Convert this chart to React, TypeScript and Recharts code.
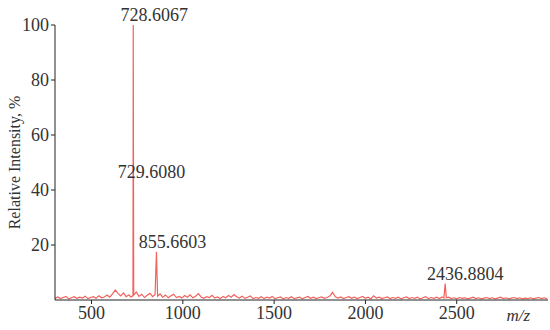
import { ComposedChart, Line, XAxis, YAxis, ReferenceDot } from 'recharts';

// baseline noise, [m/z, relative intensity %]
const noise: [number, number][] = [
  [300, 0.6], [315, 1.1], [330, 0.5], [345, 0.9], [360, 1.3], [375, 0.4], [390, 0.8], [405, 1.2],
  [420, 0.6], [435, 1.0], [450, 0.7], [465, 1.4], [480, 0.5], [495, 0.9], [510, 1.2], [525, 0.6],
  [540, 1.5], [555, 0.8], [570, 1.1], [585, 1.8], [600, 1.0], [615, 2.2], [630, 3.6], [645, 2.4],
  [660, 1.5], [675, 2.6], [690, 1.2], [705, 1.9], [715, 1.1], [727, 1.5], [731, 1.8], [745, 2.9],
  [760, 1.3], [775, 2.1], [790, 0.9], [805, 1.7], [820, 2.4], [835, 1.2], [848, 2.0], [862, 1.4],
  [875, 2.2], [890, 1.0], [905, 1.8], [920, 0.8], [935, 1.5], [950, 2.1], [965, 0.9], [980, 1.3],
  [995, 0.7], [1010, 1.6], [1025, 1.0], [1040, 1.9], [1055, 0.8], [1070, 1.4], [1085, 2.3], [1100, 1.1],
  [1115, 0.6], [1130, 1.2], [1145, 0.9], [1160, 1.7], [1175, 0.7], [1190, 1.1], [1205, 0.5], [1220, 1.3],
  [1235, 0.8], [1250, 1.6], [1265, 1.0], [1280, 2.0], [1295, 1.2], [1310, 0.7], [1325, 1.4], [1340, 0.6],
  [1355, 1.0], [1370, 1.5], [1385, 0.5], [1400, 0.9], [1415, 0.6], [1430, 1.2], [1445, 0.5], [1460, 1.0],
  [1475, 0.7], [1490, 1.3], [1505, 0.5], [1520, 0.8], [1535, 1.1], [1550, 0.4], [1565, 0.9], [1580, 0.6],
  [1595, 1.2], [1610, 0.5], [1625, 0.8], [1640, 1.0], [1655, 0.4], [1670, 0.9], [1685, 1.3], [1700, 0.6],
  [1715, 1.0], [1730, 0.5], [1745, 0.8], [1760, 1.1], [1775, 0.6], [1790, 0.9], [1805, 1.4], [1820, 2.8],
  [1835, 1.2], [1850, 0.7], [1865, 1.1], [1880, 0.5], [1895, 0.9], [1910, 1.2], [1925, 0.6], [1940, 1.0],
  [1955, 0.5], [1970, 0.9], [1985, 1.3], [2000, 0.6], [2015, 1.0], [2030, 0.4], [2045, 1.5], [2060, 0.7],
  [2075, 1.0], [2090, 0.5], [2105, 0.8], [2120, 1.1], [2135, 0.5], [2150, 0.9], [2165, 0.6], [2180, 1.0],
  [2195, 0.4], [2210, 0.8], [2225, 1.1], [2240, 0.5], [2255, 0.9], [2270, 0.6], [2285, 1.0], [2300, 0.4],
  [2315, 0.8], [2330, 1.2], [2345, 0.5], [2360, 0.9], [2375, 0.6], [2390, 1.0], [2405, 0.5], [2420, 1.1],
  [2430, 0.7], [2443, 0.8], [2455, 1.0], [2470, 0.5], [2485, 0.8], [2500, 0.4], [2515, 0.9], [2530, 0.6],
  [2545, 0.8], [2560, 0.4], [2575, 0.7], [2590, 1.0], [2605, 0.5], [2620, 0.8], [2635, 0.4], [2650, 0.7],
  [2665, 0.9], [2680, 0.5], [2695, 0.8], [2710, 0.4], [2725, 0.7], [2740, 1.0], [2755, 0.5], [2770, 0.8],
  [2785, 0.4], [2800, 0.7], [2815, 0.9], [2830, 0.5], [2845, 0.8], [2860, 0.4], [2875, 0.7], [2890, 0.5],
  [2905, 0.8], [2920, 0.4], [2935, 0.7], [2950, 0.9], [2965, 0.5], [2980, 0.8], [2995, 0.4],
];

// labelled peaks
const peakMz = [728.6067, 729.608, 855.6603, 2436.8804];
const peakIntensity = [100, 55, 17.5, 6];

const xTicks = [500, 1000, 1500, 2000, 2500];
const yTicks = [20, 40, 60, 80, 100];

// pixel nudges for the peak labels (dx, dy from the peak top)
const labelOffset: [number, number][] = [[21, -4], [18, 29], [16, -4], [20, -4]];

const RED = '#f0625c';
const TEXT = '#333';
const FONT = '"Liberation Serif", "Times New Roman", serif';

const spectrum = [
  ...noise.map(([mz, v]) => ({ mz, v })),
  ...peakMz.map((mz, i) => ({ mz, v: peakIntensity[i] })),
].sort((a, b) => a.mz - b.mz);

export default function App() {
  return (
    <div style={{ position: 'absolute', left: 0, top: 0, background: '#fff' }}>
      <ComposedChart width={550} height={330} data={spectrum} margin={{ top: 25, right: 2, bottom: 0, left: 0 }}>
        <XAxis
          dataKey="mz"
          type="number"
          domain={[300, 3000]}
          ticks={xTicks}
          height={30}
          stroke="#222"
          tickSize={4}
          tickMargin={2}
          tick={{ fontSize: 18, fontFamily: FONT, fill: TEXT }}
          label={{ value: 'm/z', position: 'insideRight', offset: 18, fontSize: 17, fontFamily: FONT, fill: TEXT, fontStyle: 'italic' }}
        />
        <YAxis
          type="number"
          domain={[0, 100]}
          ticks={yTicks}
          width={55}
          stroke="#222"
          tickSize={4}
          tickMargin={2}
          tick={{ fontSize: 18, fontFamily: FONT, fill: TEXT }}
          label={{ value: 'Relative Intensity, %', angle: -90, position: 'insideLeft', offset: 14, fontSize: 16, fontFamily: FONT, fill: TEXT, style: { textAnchor: 'middle' } }}
        />
        <Line type="linear" dataKey="v" stroke={RED} strokeWidth={1.2} dot={false} isAnimationActive={false} />
        {peakMz.map((mz, i) => (
          <ReferenceDot
            key={mz}
            x={mz}
            y={peakIntensity[i]}
            r={0}
            shape={(p: any) => (
              <text
                x={p.cx + labelOffset[i][0]}
                y={p.cy + labelOffset[i][1]}
                textAnchor="middle"
                fontSize={18}
                fontFamily={FONT}
                fill={TEXT}
              >
                {mz.toFixed(4)}
              </text>
            )}
          />
        ))}
      </ComposedChart>
    </div>
  );
}
